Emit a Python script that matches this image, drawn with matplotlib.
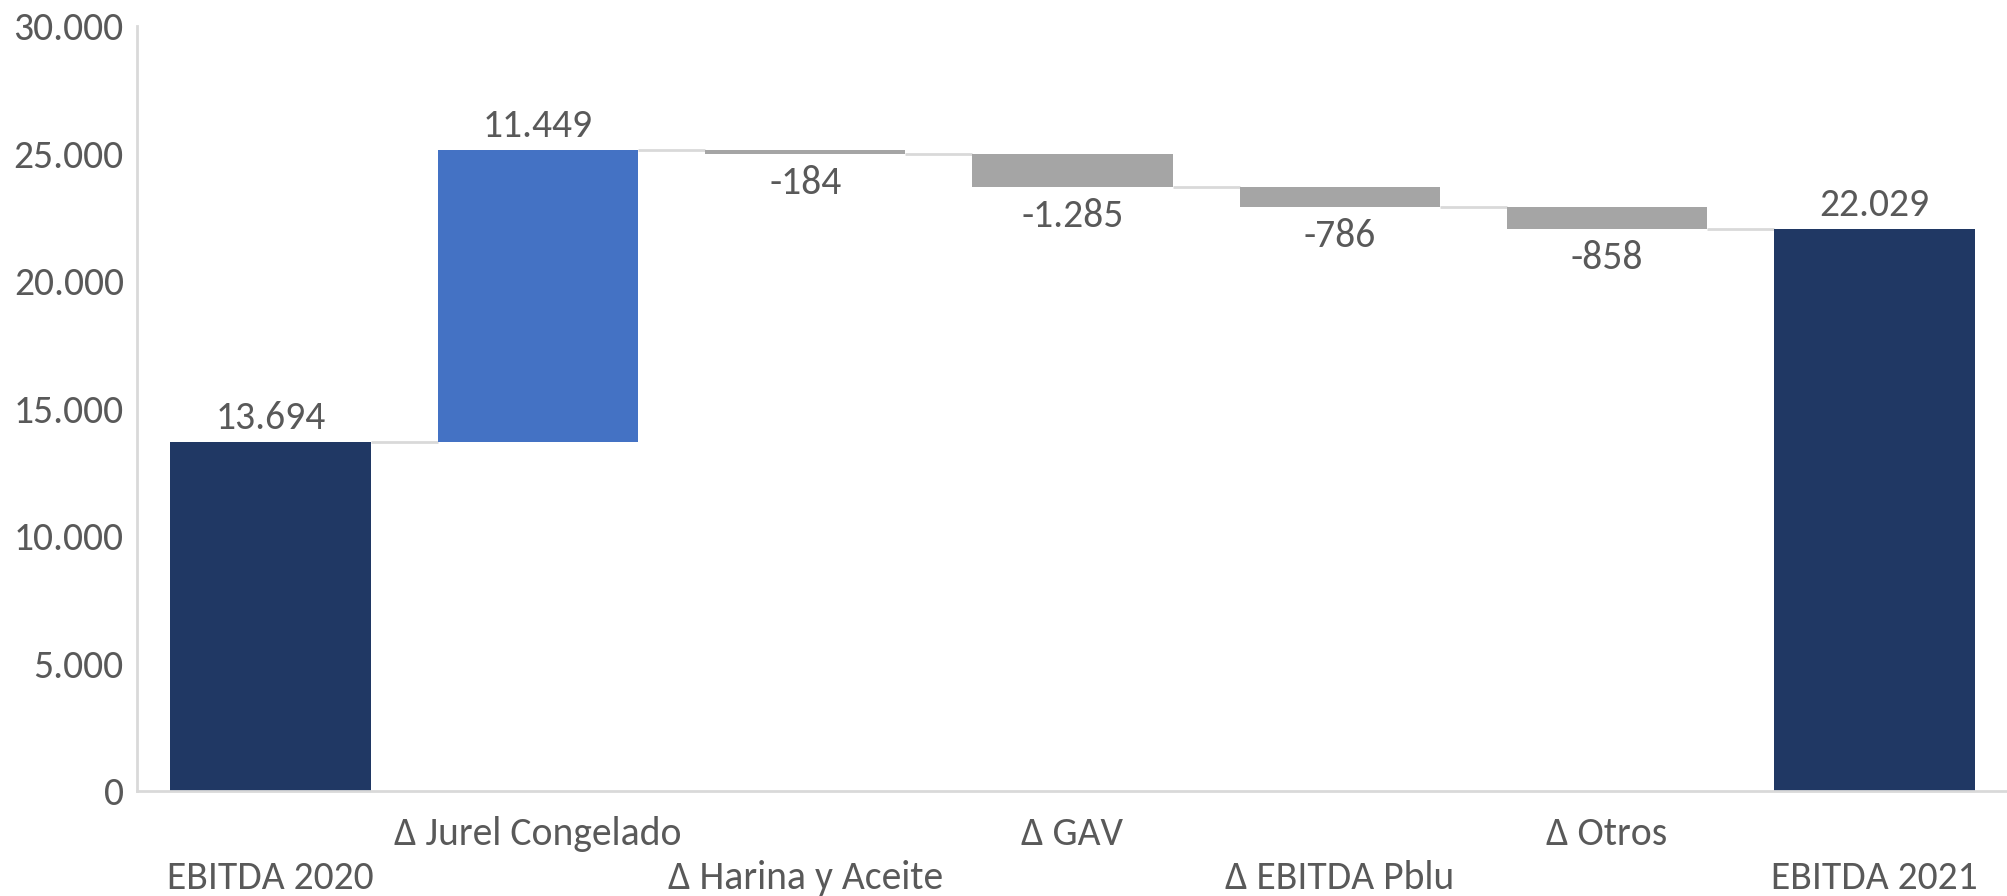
import numpy as np
import matplotlib
matplotlib.use('Agg')
import matplotlib.pyplot as plt
from matplotlib.ticker import FuncFormatter

categories = ['EBITDA 2020', 'Δ Jurel Congelado', 'Δ Harina y Aceite', 'Δ GAV',
              'Δ EBITDA Pblu', 'Δ Otros', 'EBITDA 2021']
values = [13694, 11449, -184, -1285, -786, -858, 22029]
is_total = [True, False, False, False, False, False, True]

NAVY = '#203864'
BLUE = '#4472C4'
GRAY = '#A5A5A5'
TXT = '#595959'
LINE = '#D9D9D9'

plt.rcParams['font.family'] = ['Carlito', 'Liberation Sans', 'DejaVu Sans']
FS = 28.5

# waterfall geometry
bottoms, heights, colors = [], [], []
running = 0
for v, tot in zip(values, is_total):
    if tot:
        bottoms.append(0)
        heights.append(v)
        colors.append(NAVY)
        running = v
    elif v >= 0:
        bottoms.append(running)
        heights.append(v)
        colors.append(BLUE)
        running += v
    else:
        running += v
        bottoms.append(running)
        heights.append(-v)
        colors.append(GRAY)

fig = plt.figure(figsize=(20.08, 8.96), dpi=100)
ax = fig.add_axes([0.0682, 0.1172, 0.9318, 0.8542])

x = np.arange(len(categories))
w = 0.75
ax.bar(x, heights, bottom=bottoms, width=w, color=colors, zorder=2)

# connector lines between bars
levels = []
running = 0
for v, tot in zip(values, is_total):
    running = v if tot else running + v
    levels.append(running)
for i in range(len(x) - 1):
    ax.plot([x[i] + w / 2, x[i + 1] - w / 2], [levels[i], levels[i]],
            color=LINE, lw=2, zorder=1, solid_capstyle='butt')

fmt = lambda v: f'{v:,.0f}'.replace(',', '.')

for i, v in enumerate(values):
    if v >= 0:
        ax.annotate(fmt(v), (x[i], bottoms[i] + heights[i]), xytext=(0, 17),
                    textcoords='offset points', ha='center', va='center',
                    fontsize=FS, color=TXT)
    else:
        ax.annotate(fmt(v), (x[i], bottoms[i]), xytext=(0, -21),
                    textcoords='offset points', ha='center', va='center',
                    fontsize=FS, color=TXT)

ax.set_xlim(-0.5, len(x) - 0.5)
ax.set_ylim(0, 30000)
ax.set_yticks(np.arange(0, 30001, 5000))
ax.yaxis.set_major_formatter(FuncFormatter(lambda v, p: fmt(v)))
ax.set_xticks(x)
ax.set_xticklabels(categories)
ax.tick_params(axis='both', length=0, labelsize=FS, labelcolor=TXT)
ax.tick_params(axis='y', pad=9.5)
# staggered category labels
for i, t in enumerate(ax.xaxis.get_major_ticks()):
    t.set_pad(50 if i % 2 == 0 else 18)

for s in ['top', 'right']:
    ax.spines[s].set_visible(False)
for s in ['left', 'bottom']:
    ax.spines[s].set_color(LINE)
    ax.spines[s].set_linewidth(2)

plt.savefig('out.png', dpi=100)
